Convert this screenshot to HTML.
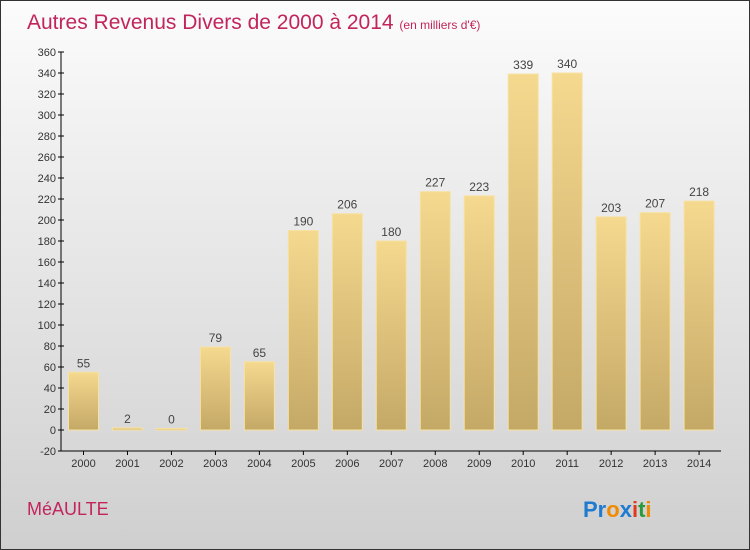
<!DOCTYPE html>
<html><head><meta charset="utf-8"><style>
body{margin:0}
#c{width:750px;height:550px;position:relative;box-sizing:border-box;border:1px solid #333;background:linear-gradient(#fcfcfc,#f0f0f0 25%,#d6d6d6 85%,#cfcfcf);font-family:"Liberation Sans",sans-serif;overflow:hidden}
</style></head><body>
<div id="c">
<svg width="750" height="550" id="s">
<defs><linearGradient id="g" x1="0" y1="0" x2="0" y2="1"><stop offset="0" stop-color="#f5d98f"/><stop offset="1" stop-color="#c4a866"/></linearGradient></defs>
<text x="26" y="28" font-size="21" fill="#c2255c">Autres Revenus Divers de 2000 à 2014 <tspan font-size="12">(en milliers d'€)</tspan></text>
<text x="26" y="514" font-size="18" fill="#c2255c">MéAULTE</text>
<g font-size="22" font-weight="bold"><text x="582" y="516"><tspan fill="#1e7bd0">Pr</tspan><tspan fill="#f08a00">o</tspan><tspan fill="#1e7bd0">x</tspan><tspan fill="#e03a1a">i</tspan><tspan fill="#2a9a3a">t</tspan><tspan fill="#f08a00">i</tspan></text></g>
</svg>
</div>
<script>
const years=["2000","2001","2002","2003","2004","2005","2006","2007","2008","2009","2010","2011","2012","2013","2014"];
const values=[55,2,0,79,65,190,206,180,227,223,339,340,203,207,218];
const yTicks=[-20,0,20,40,60,80,100,120,140,160,180,200,220,240,260,280,300,320,340,360];
const s=document.getElementById('s');const NS='http://www.w3.org/2000/svg';
const y=v=>429-v*(429-51)/360;
const x=i=>82.5+i*43.97;
function mk(t,a,p){const e=document.createElementNS(NS,t);for(const k in a)e.setAttribute(k,a[k]);(p||s).appendChild(e);return e;}
values.forEach((v,i)=>{
 const top=Math.min(y(v),y(0)-1.5),h=Math.max(y(0)-top,1.5);
 const r=mk('rect',{x:x(i)-15,y:top,width:30,height:h,fill:'url(#g)',stroke:'#f7e2a2','stroke-width':1});
 
 
 const t=mk('text',{x:x(i),y:top-5,'text-anchor':'middle','font-size':12,fill:'#444'});t.textContent=v;
 
 
 const tk=mk('line',{x1:x(i),x2:x(i),y1:450,y2:454,stroke:'#000'});
 const xl=mk('text',{x:x(i),y:466,'text-anchor':'middle','font-size':11,fill:'#333'});xl.textContent=years[i];
 
 
});
yTicks.forEach(v=>{
 mk('line',{x1:57,x2:63,y1:y(v),y2:y(v),stroke:'#000'});
 const t=mk('text',{x:55,y:y(v)+4,'text-anchor':'end','font-size':11,fill:'#333'});t.textContent=v;
 
 
});
const ya=mk('line',{x1:60,x2:60,y1:51,y2:450,stroke:'#000'});


const xa=mk('line',{x1:60,x2:720,y1:450,y2:450,stroke:'#000'});


</script>
</body></html>
